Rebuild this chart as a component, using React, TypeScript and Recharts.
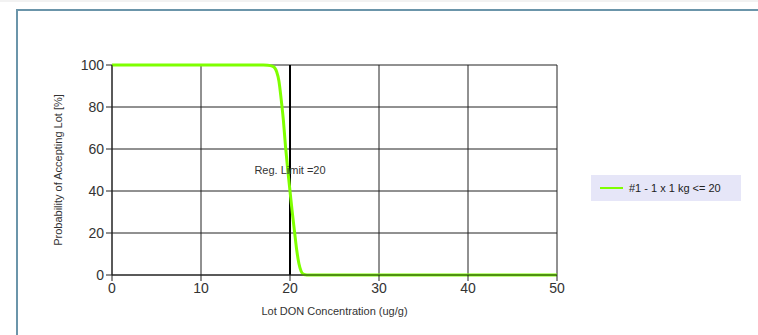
import React from "react";
import {
  LineChart,
  Line,
  XAxis,
  YAxis,
  CartesianGrid,
  ReferenceLine,
} from "recharts";

const concentrations = [
  0, 5, 10, 15, 17, 17.5, 18, 18.25, 18.5, 18.75, 19, 19.25, 19.5, 19.75, 20,
  20.25, 20.5, 20.75, 21, 21.25, 21.5, 21.75, 22, 25, 30, 35, 40, 45, 50,
];
const acceptance = [
  100, 100, 100, 100, 100, 99.9, 99.5, 98.8, 96.8, 92.5, 84, 74, 61, 50, 40,
  30, 21, 12, 5.5, 1.8, 0.4, 0.1, 0, 0, 0, 0, 0, 0, 0,
];
const xTicks = [0, 10, 20, 30, 40, 50];
const yTicks = [0, 20, 40, 60, 80, 100];
const seriesName = "#1 - 1 x 1 kg <= 20";
const regLimit = 20;

const data = concentrations.map((c, i) => ({ x: c, p: acceptance[i] }));

const FONT = "'Liberation Sans', Arial, sans-serif";

const LegendBox = () => (
  <div
    style={{
      position: "absolute",
      left: 591,
      top: 175,
      background: "#e6e6f8",
      width: 150,
      height: 26,
      display: "flex",
      alignItems: "center",
      fontFamily: FONT,
      fontSize: 11,
      color: "#222",
    }}
  >
    <div
      style={{
        width: 23,
        height: 2,
        background: "#7fff00",
        marginLeft: 9,
        marginRight: 6,
      }}
    />
    <span>{seriesName}</span>
  </div>
);

const YLabel = (props: any) => {
  const vb = props.viewBox || {};
  const cy = vb.y + vb.height / 2;
  const cx = 62;
  return (
    <text
      x={cx}
      y={cy}
      transform={`rotate(-90 ${cx} ${cy})`}
      textAnchor="middle"
      fontSize={11}
      fontFamily={FONT}
      fill="#333"
    >
      Probability of Accepting Lot [%]
    </text>
  );
};

export default function App() {
  return (
    <div
      style={{
        position: "absolute",
        left: 0,
        top: 0,
        width: 758,
        height: 335,
        overflow: "hidden",
        background: "#fff",
      }}
    >
      <div
        style={{
          position: "absolute",
          left: 0,
          top: 0,
          width: 758,
          height: 2,
          background: "#f2f2f2",
        }}
      />
      <div
        style={{
          position: "absolute",
          left: 16,
          top: 9,
          width: 800,
          height: 400,
          borderLeft: "2px solid #6b95aa",
          borderTop: "2px solid #6b95aa",
        }}
      />
      <div style={{ position: "absolute", left: 0, top: 0 }}>
        <LineChart
          width={758}
          height={335}
          data={data}
          margin={{ top: 65, right: 201, bottom: 30, left: 0 }}
        >
          <CartesianGrid stroke="#222" strokeWidth={1} />
          <XAxis
            dataKey="x"
            type="number"
            domain={[0, 50]}
            ticks={xTicks}
            height={30}
            tickSize={6}
            stroke="#222"
            tick={{ fill: "#333", fontSize: 14, fontFamily: FONT }}
            label={{
              value: "Lot DON Concentration (ug/g)",
              position: "insideBottom",
              offset: -10,
              fill: "#333",
              fontSize: 11,
              fontFamily: FONT,
            }}
          />
          <YAxis
            type="number"
            domain={[0, 100]}
            ticks={yTicks}
            width={112}
            tickSize={6}
            stroke="#222"
            tick={{ fill: "#333", fontSize: 14, fontFamily: FONT }}
            label={<YLabel />}
          />
          <ReferenceLine
            x={regLimit}
            stroke="#000"
            strokeWidth={2}
            label={{
              value: "Reg. Limit =20",
              position: "center",
              fill: "#333",
              fontSize: 11,
              fontFamily: FONT,
            }}
          />
          <Line
            type="monotone"
            dataKey="p"
            name={seriesName}
            stroke="#7fff00"
            strokeWidth={3}
            dot={false}
            isAnimationActive={false}
          />
        </LineChart>
      </div>
      <LegendBox />
    </div>
  );
}
